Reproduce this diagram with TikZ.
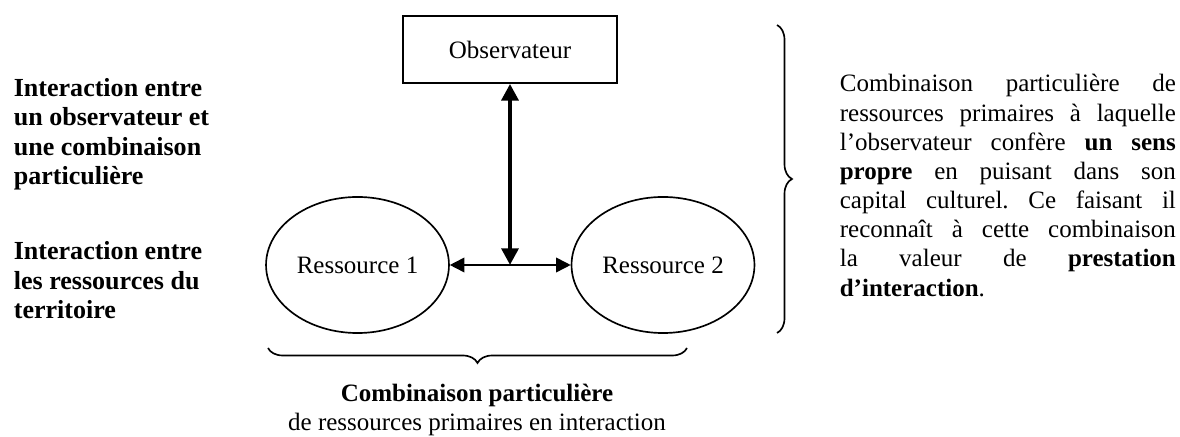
\documentclass[tikz,border=0pt]{standalone}
\usepackage{fontspec}
\setmainfont{Liberation Serif}
\usetikzlibrary{shapes.geometric,arrows.meta,decorations.pathreplacing,positioning}

\begin{document}
\frenchspacing
\begin{tikzpicture}[x=0.48pt,y=-0.48pt,line width=0.8pt,
  font=\fontsize{12}{14}\selectfont,
  boite/.style={draw,rectangle,minimum width=102.7pt,minimum height=32.2pt,inner sep=0pt},
  ress/.style={draw,ellipse,minimum width=87.8pt,minimum height=65.3pt,inner sep=0pt},
  lienfort/.style={line width=2pt,{Triangle[length=8pt,width=8pt]}-{Triangle[length=8pt,width=8pt]}},
  lien/.style={{Triangle[length=7pt,width=7pt]}-{Triangle[length=7pt,width=7pt]}},
  accolade/.style={decorate,decoration={brace,amplitude=7.2pt}},
  legende/.style={inner sep=0pt,align=left,font=\fontsize{12.5}{14.2}\selectfont\bfseries}]

  \useasboundingbox (0,0) rectangle (1180,437);

  \node [boite] (obs) at (510,49.5) {Observateur};
  \node [ress] (res1) at (357.5,265) {Ressource 1};
  \node [ress] (res2) at (663,265) {Ressource 2};
  \coordinate (j) at (obs.south |- res1.east);

  \draw [lien] (res1) -- (res2);
  \draw [lienfort] (obs) -- (j);

  \coordinate (accH) at (777,25);
  \coordinate (accB) at (777,333);
  \draw [accolade] (accH) -- (accB);
  \coordinate (accG) at (268,348);
  \coordinate (accD) at (687,348);
  \draw [accolade] (accD) -- (accG);

  % base = last line here
  \node [legende,anchor=base west] (interObs) at (13,185) {Interaction entre\\un observateur et\\une combinaison\\particulière};
  \node [legende,anchor=base west] (interRess) at (13,319) {Interaction entre\\les ressources du\\territoire};

  \node [anchor=base,align=center,inner sep=0pt] (combi) at (477,431) {\textbf{Combinaison particulière}\\de ressources primaires en interaction};

  % base = first line here
  \node [anchor=base west,text width=161.3pt,align=justify,inner sep=0pt] (sens) at (839,92)
    {Combinaison particulière de\linebreak ressources primaires à laquelle\linebreak l’observateur confère \textbf{un sens}\linebreak \textbf{propre} en puisant dans son\linebreak capital culturel. Ce faisant il\linebreak reconnaît à cette combinaison\linebreak la valeur de \textbf{prestation}\linebreak \textbf{d’interaction}.};

\end{tikzpicture}
\end{document}
